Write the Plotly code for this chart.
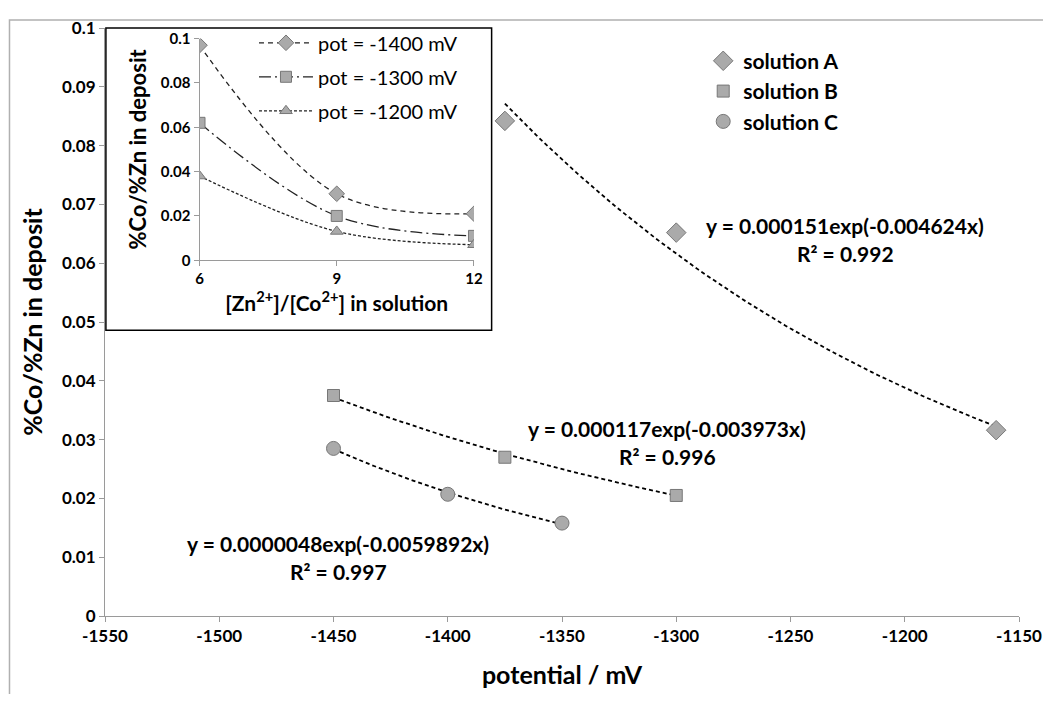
import numpy as np
import plotly.graph_objects as go

# ---- main chart data ----
potA = [-1375, -1300, -1160]
valA = [0.0842, 0.0652, 0.0316]
potB = [-1450, -1375, -1300]
valB = [0.0375, 0.0270, 0.0205]
potC = [-1450, -1400, -1350]
valC = [0.0285, 0.0207, 0.0158]

# trendline coefficients  y = a*exp(b*x)
fitA = [0.000151, -0.004624]
fitB = [0.000117, -0.003973]
fitC = [0.0000048, -0.0059892]
fit_rangeA = [-1375, -1160]
fit_rangeB = [-1450, -1300]
fit_rangeC = [-1450, -1350]

x_ticks = [-1550, -1500, -1450, -1400, -1350, -1300, -1250, -1200, -1150]
y_ticks = [0, 0.01, 0.02, 0.03, 0.04, 0.05, 0.06, 0.07, 0.08, 0.09, 0.1]

# ---- inset data ----
ratio = [6, 9, 12]
pot1400 = [0.097, 0.030, 0.021]
pot1300 = [0.062, 0.020, 0.011]
pot1200 = [0.038, 0.013, 0.007]
inset_y_ticks = [0, 0.02, 0.04, 0.06, 0.08, 0.1]

FONT = "Lato"
mfill = "#aaaaaa"
medge = "#777777"

fig = go.Figure()

def trend(coef, rng):
    xs = np.linspace(rng[0], rng[1], 80)
    return xs, coef[0] * np.exp(coef[1] * xs)

for coef, rng in [(fitA, fit_rangeA), (fitB, fit_rangeB), (fitC, fit_rangeC)]:
    xs, ys = trend(coef, rng)
    fig.add_trace(go.Scatter(x=xs, y=ys, mode="lines", showlegend=False,
                             line=dict(color="black", width=1.8, dash="4px,3px"),
                             hoverinfo="skip"))

for name, xs, ys, sym, sz in [("solution A", potA, valA, "diamond", 15),
                              ("solution B", potB, valB, "square", 12),
                              ("solution C", potC, valC, "circle", 14)]:
    fig.add_trace(go.Scatter(x=xs, y=ys, mode="markers", name="<b>%s</b>" % name,
                             marker=dict(symbol=sym, size=sz, color=mfill,
                                         line=dict(color=medge, width=1)),
                             legend="legend"))

# inset traces
for name, ys, sym, dash, sz in [("pot = -1400 mV", pot1400, "diamond", "5px,4px", 12),
                                ("pot = -1300 mV", pot1300, "square", "12px,4px,2px,4px", 11),
                                ("pot = -1200 mV", pot1200, "triangle-up", "3px,2px", 11)]:
    fig.add_trace(go.Scatter(x=ratio, y=ys, mode="lines+markers", name=name,
                             xaxis="x2", yaxis="y2", line_shape="spline",
                             line=dict(color="#222222", width=1.3, dash=dash),
                             marker=dict(symbol=sym, size=sz, color=mfill,
                                         line=dict(color=medge, width=1)),
                             legend="legend2", legendgroup=name))

ann = [
    ("y = 0.000151exp(-0.004624x)", -1226, 0.0664),
    ("R² = 0.992", -1226, 0.0616),
    ("y = 0.000117exp(-0.003973x)", -1304, 0.0319),
    ("R² = 0.996", -1304, 0.0271),
    ("y = 0.0000048exp(-0.0059892x)", -1448, 0.0124),
    ("R² = 0.997", -1448, 0.0076),
]
for t, x, y in ann:
    fig.add_annotation(x=x, y=y, xref="x", yref="y", text="<b>%s</b>" % t,
                       showarrow=False, font=dict(family=FONT, size=21, color="black"))

def axis_common(size):
    return dict(showgrid=False, zeroline=False, showline=True, linecolor="#9a9a9a",
                linewidth=1, ticks="outside", tickcolor="#9a9a9a", ticklen=5,
                tickfont=dict(family=FONT, size=size, color="black"))

fig.update_layout(
    width=1043, height=686,
    margin=dict(l=97, r=27, t=9, b=72),
    paper_bgcolor="white", plot_bgcolor="white",
    font=dict(family=FONT),
    xaxis=dict(range=[-1550, -1150], tickvals=x_ticks,
               ticktext=["<b>%d</b>" % v for v in x_ticks],
               title=dict(text="<b>potential / mV</b>", font=dict(family=FONT, size=25, color="black"),
                          standoff=21),
               domain=[0, 1], **axis_common(17)),
    yaxis=dict(range=[0, 0.1], tickvals=y_ticks,
               ticktext=["<b>%s</b>" % ("%g" % v) for v in y_ticks],
               title=dict(text="<b>%Co/%Zn in deposit</b>", font=dict(family=FONT, size=25, color="black"),
                          standoff=12),
               domain=[0, 1], **axis_common(17)),
    xaxis2=dict(range=[6, 12], tickvals=ratio, ticktext=["<b>%d</b>" % v for v in ratio],
                anchor="y2", domain=[0.1034, 0.4037],
                title=dict(text="<b>[Zn<sup>2+</sup>]/[Co<sup>2+</sup>] in solution</b>",
                           font=dict(family=FONT, size=21, color="black"), standoff=6),
                **axis_common(15)),
    yaxis2=dict(range=[0, 0.1], tickvals=inset_y_ticks,
                ticktext=["<b>%s</b>" % ("%g" % v) for v in inset_y_ticks], anchor="x2",
                domain=[0.605, 0.982],
                title=dict(text="<b>%Co/%Zn in deposit</b>",
                           font=dict(family=FONT, size=22, color="black"), standoff=8),
                **axis_common(15)),
    legend=dict(x=0.6545, y=0.9785, xanchor="left", yanchor="top", bgcolor="rgba(0,0,0,0)",
                font=dict(family=FONT, size=21, color="black"), itemsizing="trace"),
    legend2=dict(x=0.163, y=1.008, xanchor="left", yanchor="top", bgcolor="rgba(0,0,0,0)",
                 font=dict(family=FONT, size=20, color="black"), itemwidth=54,
                 tracegroupgap=5),
    shapes=[
        dict(type="rect", xref="paper", yref="paper", x0=0.001, x1=0.423, y0=0.486, y1=1.0,
             line=dict(color="black", width=1.5), fillcolor="white", layer="below"),
        dict(type="rect", xref="paper", yref="paper", x0=-0.1045, x1=1.05, y0=-0.2, y1=1.0135,
             line=dict(color="#b0b0b0", width=1.5), fillcolor="rgba(0,0,0,0)", layer="below"),
    ],
)

fig.write_html("out.html")
